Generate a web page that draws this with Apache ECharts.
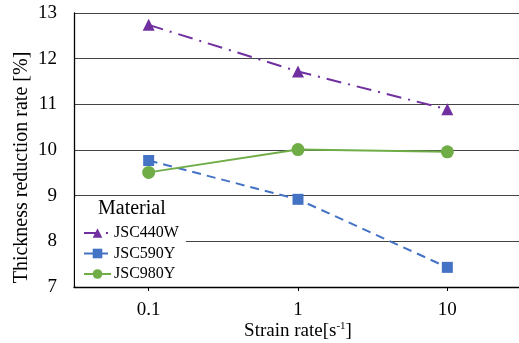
<!DOCTYPE html>
<html>
<head>
<meta charset="utf-8">
<script src="https://cdn.jsdelivr.net/npm/echarts@6/dist/echarts.min.js"></script>
<style>
html,body{margin:0;padding:0;overflow:hidden;background:#fff;}
#c{width:522px;height:343px;}
</style>
</head>
<body>
<div id="c"></div>
<script>
const categories = ['0.1', '1', '10'];
const seriesNames = ['JSC440W', 'JSC590Y', 'JSC980Y'];
const jsc440w = [12.74, 11.72, 10.89];
const jsc590y = [9.77, 8.92, 7.43];
const jsc980y = [9.51, 10.01, 9.96];
const yTicks = [7, 8, 9, 10, 11, 12, 13];

const FONT = 'Liberation Serif';
const chart = echarts.init(document.getElementById('c'), null, {renderer: 'canvas'});
chart.setOption({
  animation: false,
  textStyle: {fontFamily: FONT, color: '#000'},
  grid: {left: 74, right: 0, top: 13, bottom: 56, containLabel: false, outerBoundsMode: 'none'},
  title: {
    text: 'Material', left: 98, top: 199, padding: 0,
    textStyle: {fontFamily: FONT, fontSize: 20, fontWeight: 'normal', color: '#000'}
  },
  legend: {
    orient: 'vertical', left: 75, top: 198,
    padding: [27, 7, 3, 8],
    backgroundColor: '#fff',
    itemWidth: 27, itemHeight: 12, itemGap: 4.5,
    textStyle: {fontFamily: FONT, fontSize: 16, color: '#000', padding: [0, 0, 0, -2]},
    data: seriesNames
  },
  xAxis: {
    type: 'category', data: categories, boundaryGap: true,
    axisLine: {lineStyle: {color: '#000', width: 1.3}},
    axisTick: {show: true, alignWithLabel: true, length: 4, lineStyle: {color: '#000'}},
    axisLabel: {fontFamily: FONT, fontSize: 19, color: '#000', margin: 14},
    name: '{a|Strain rate[s}{b|-1}{a|]}',
    nameLocation: 'middle', nameGap: 34, nameMoveOverlap: false,
    nameTextStyle: {
      rich: {
        a: {fontFamily: FONT, fontSize: 19, color: '#000', lineHeight: 20},
        b: {fontFamily: FONT, fontSize: 11, color: '#000', verticalAlign: 'top', lineHeight: 20, padding: [0, 0, 8, 0]}
      }
    }
  },
  yAxis: {
    type: 'value', min: yTicks[0], max: yTicks[yTicks.length - 1], interval: 1,
    axisLine: {show: true, lineStyle: {color: '#000', width: 1.3}},
    axisTick: {show: false},
    axisLabel: {fontFamily: FONT, fontSize: 19, color: '#000', margin: 17},
    splitLine: {show: true, lineStyle: {color: '#444', width: 1}},
    name: 'Thickness reduction rate [%]',
    nameLocation: 'middle', nameRotate: 90, nameGap: 42, nameMoveOverlap: false,
    nameTextStyle: {fontFamily: FONT, fontSize: 20, color: '#000', padding: [0, 35, 0, 0]}
  },
  series: [
    {
      name: seriesNames[0], type: 'line', data: jsc440w,
      symbol: 'triangle', symbolSize: 12,
      itemStyle: {color: '#7030A0'},
      lineStyle: {color: '#7030A0', width: 2, type: [15, 7, 2, 7]}
    },
    {
      name: seriesNames[1], type: 'line', data: jsc590y,
      symbol: 'rect', symbolSize: 11,
      itemStyle: {color: '#4472C4'},
      lineStyle: {color: '#4472C4', width: 2, type: [9, 6]}
    },
    {
      name: seriesNames[2], type: 'line', data: jsc980y,
      symbol: 'circle', symbolSize: 13,
      itemStyle: {color: '#70AD47'},
      lineStyle: {color: '#70AD47', width: 2}
    }
  ]
});
</script>
</body>
</html>
